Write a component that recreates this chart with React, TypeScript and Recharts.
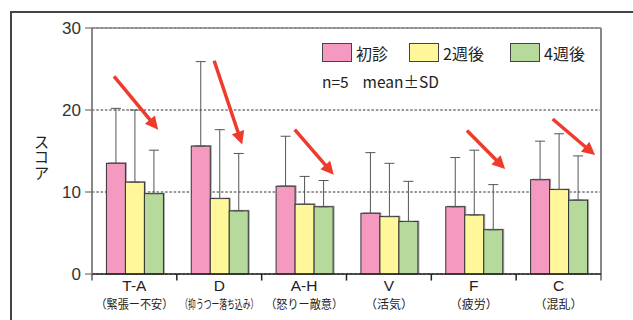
import {
  Bar,
  BarChart,
  CartesianGrid,
  ErrorBar,
  ReferenceLine,
  XAxis,
  YAxis,
} from 'recharts'

const categories = ['T-A', 'D', 'A-H', 'V', 'F', 'C']
const subtitles = [
  '（緊張ー不安）',
  '（抑うつー落ち込み）',
  '（怒りー敵意）',
  '（活気）',
  '（疲労）',
  '（混乱）',
]

const initial = [13.5, 15.6, 10.7, 7.4, 8.2, 11.5]
const initialSd = [6.7, 10.3, 6.1, 7.4, 6.0, 4.7]
const week2 = [11.2, 9.2, 8.5, 7.0, 7.2, 10.3]
const week2Sd = [8.8, 8.4, 3.4, 6.5, 7.9, 6.8]
const week4 = [9.8, 7.7, 8.2, 6.4, 5.4, 9.0]
const week4Sd = [5.3, 7.0, 3.2, 4.9, 5.5, 5.4]

const yTicks = [0, 10, 20, 30]
const boundaries = [0, 1, 2, 3, 4, 5, 6]

// arrows in (category units, score) coordinates
const arrowStartX = [0.26, 1.44, 2.39, 4.42, 5.43]
const arrowStartY = [24.1, 26.0, 17.6, 17.5, 18.9]
const arrowEndX = [0.78, 1.77, 2.85, 4.87, 5.93]
const arrowEndY = [17.6, 15.8, 12.1, 12.8, 14.5]

const series = [
  { key: 'initial', label: '初診', color: '#f49ac1' },
  { key: 'week2', label: '2週後', color: '#fff799' },
  { key: 'week4', label: '4週後', color: '#b6da9c' },
]

const data = categories.map((name, i) => ({
  name,
  center: i + 0.5,
  initial: initial[i],
  initialErr: [0, initialSd[i]],
  week2: week2[i],
  week2Err: [0, week2Sd[i]],
  week4: week4[i],
  week4Err: [0, week4Sd[i]],
}))

const font = '"Noto Sans CJK JP", "Noto Sans", sans-serif'
const latin = '"Liberation Sans", Arial, sans-serif'

function ShadowBar(props: any) {
  const { x, y, width, height, fill } = props
  if (!height) return null
  return (
    <g>
      <rect x={x + 1.5} y={y - 1} width={width} height={height + 1} fill="#a8a8a8" />
      <rect x={x} y={y} width={width} height={height} fill={fill} stroke="#333" strokeWidth={1} />
    </g>
  )
}

function CategoryTick(props: any) {
  const { x, y, payload, index } = props
  const sub = subtitles[index]
  const size = 12
  const natural = sub.length * size
  const maxW = 78
  const sx = natural > maxW ? maxW / natural : 1
  return (
    <g>
      <text x={x} y={y + 17} textAnchor="middle" fontSize={15.5} fill="#222" fontFamily={latin}>
        {payload.value}
      </text>
      <g transform={`translate(${x},${y + 34.5}) scale(${sx},1)`}>
        <text x={0} y={0} textAnchor="middle" fontSize={size} fill="#222" fontFamily={font}>
          {sub}
        </text>
      </g>
    </g>
  )
}

function Arrow(props: any) {
  const { x1, y1, x2, y2 } = props
  const dx = x2 - x1
  const dy = y2 - y1
  const len = Math.sqrt(dx * dx + dy * dy)
  const ux = dx / len
  const uy = dy / len
  const headLen = 13
  const headW = 6.5
  const bx = x2 - ux * headLen
  const by = y2 - uy * headLen
  return (
    <g>
      <line x1={x1} y1={y1} x2={bx + ux * 2} y2={by + uy * 2} stroke="#ef3b2c" strokeWidth={3.5} />
      <polygon
        points={`${x2},${y2} ${bx - uy * headW},${by + ux * headW} ${bx + uy * headW},${by - ux * headW}`}
        fill="#ef3b2c"
      />
    </g>
  )
}

export default function App() {
  return (
    <div
      style={{
        position: 'absolute',
        left: 0,
        top: 0,
        width: 633,
        height: 320,
        background: '#fff',
        overflow: 'hidden',
        fontFamily: font,
      }}
    >
      <div
        style={{
          position: 'absolute',
          left: 10,
          top: 11,
          width: 640,
          height: 320,
          borderLeft: '2px solid #444',
          borderTop: '2px solid #444',
        }}
      />
      <BarChart
        width={633}
        height={320}
        data={data}
        margin={{ top: 28, right: 32, bottom: 0, left: 52 }}
        barCategoryGap="17%"
        barGap={0}
        style={{ position: 'absolute', left: 0, top: 0 }}
      >
        <CartesianGrid horizontal vertical={false} stroke="#333" strokeDasharray="2.5 1.8" />
        <XAxis
          dataKey="name"
          axisLine={{ stroke: '#222', strokeWidth: 1.5 }}
          tickLine={false}
          tickSize={0}
          tickMargin={0}
          height={46}
          interval={0}
          tick={<CategoryTick />}
        />
        <XAxis
          xAxisId="num"
          dataKey="center"
          type="number"
          domain={[0, 6]}
          allowDataOverflow
          ticks={boundaries}
          hide
        />
        <YAxis
          domain={[0, 30]}
          ticks={yTicks}
          width={40}
          axisLine={{ stroke: '#888', strokeWidth: 2 }}
          tickLine={{ stroke: '#555' }}
          tickSize={7}
          tickMargin={4}
          tick={{ fontSize: 17, fill: '#333', fontFamily: latin }}
        />
        <ReferenceLine y={30} stroke="#888" strokeWidth={1.5} />
        {series.map((s) => (
          <Bar
            key={s.key}
            dataKey={s.key}
            fill={s.color}
            shape={<ShadowBar />}
            isAnimationActive={false}
          >
            <ErrorBar
              dataKey={`${s.key}Err`}
              direction="y"
              width={5}
              stroke="#555"
              strokeWidth={1}
              isAnimationActive={false}
            />
          </Bar>
        ))}
        {boundaries.map((b) => (
          <ReferenceLine
            key={`t${b}`}
            xAxisId="num"
            ifOverflow="visible"
            segment={[
              { x: b, y: 0 },
              { x: b, y: -0.8 },
            ]}
            stroke={b === 0 || b === 6 ? '#888' : '#222'}
            strokeWidth={b === 0 || b === 6 ? 2 : 1.5}
          />
        ))}
        <ReferenceLine
          xAxisId="num"
          ifOverflow="visible"
          segment={[
            { x: 6, y: 0 },
            { x: 6, y: 30 },
          ]}
          stroke="#888"
          strokeWidth={2}
        />
        {arrowStartX.map((sx, i) => (
          <ReferenceLine
            key={`a${i}`}
            xAxisId="num"
            ifOverflow="visible"
            segment={[
              { x: sx, y: arrowStartY[i] },
              { x: arrowEndX[i], y: arrowEndY[i] },
            ]}
            shape={(p: any) => <Arrow {...p} />}
          />
        ))}
      </BarChart>
      <div
        style={{
          position: 'absolute',
          left: 33,
          top: 134,
          writingMode: 'vertical-rl',
          fontSize: 15.5,
          color: '#222',
          lineHeight: 1,
        }}
      >
        スコア
      </div>
      {series.map((s, i) => (
        <div
          key={s.key}
          style={{
            position: 'absolute',
            left: [322, 409, 510][i],
            top: 43,
            display: 'flex',
            alignItems: 'center',
            fontSize: 16,
            color: '#222',
            lineHeight: 1,
          }}
        >
          <span
            style={{
              display: 'inline-block',
              width: 28,
              height: 17,
              background: s.color,
              border: '1px solid #444',
              marginRight: 4,
            }}
          />
          {s.label}
        </div>
      ))}
      <div
        style={{
          position: 'absolute',
          left: 322,
          top: 74,
          fontSize: 15.5,
          color: '#222',
          lineHeight: 1,
          whiteSpace: 'pre',
        }}
      >
        {'n=5    mean±SD'}
      </div>
    </div>
  )
}
